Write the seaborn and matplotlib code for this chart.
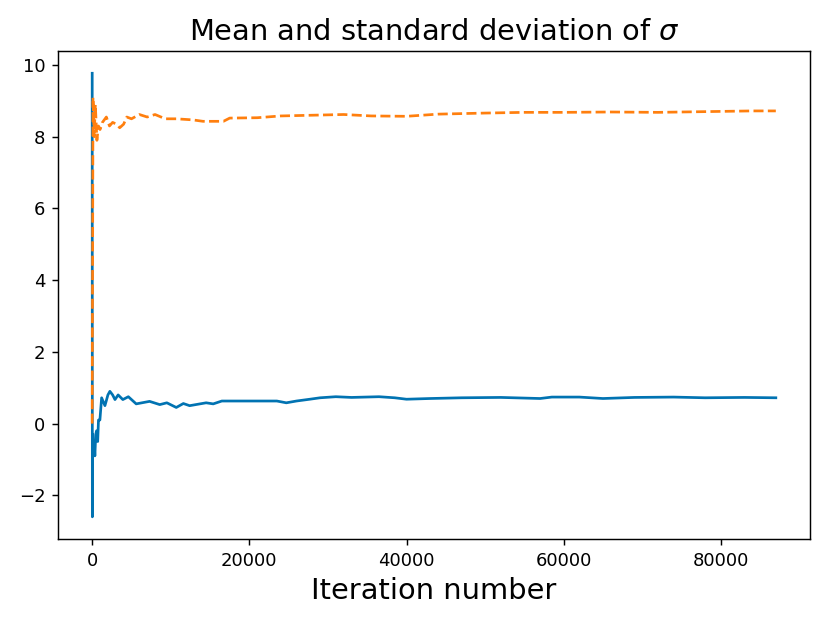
import matplotlib
matplotlib.use("Agg")
import matplotlib.pyplot as plt
import seaborn as sns

# running mean of sigma
mean_iter = [0, 20, 60, 130, 250, 340, 450, 560, 700, 800, 980, 1200, 1620, 2000,
             2250, 2600, 2900, 3300, 3900, 4600, 5600, 7300, 8600, 9500, 10700,
             11600, 12400, 14500, 15400, 16500, 20000, 23500, 24700, 26000, 27700,
             29000, 31000, 33000, 36500, 38500, 40000, 43000, 47000, 52000, 57000,
             58500, 62000, 65000, 69000, 74000, 78000, 83000, 87000]
mean_vals = [9.77, -2.6, -0.3, -0.9, -0.5, -0.9, -0.3, -0.2, -0.5, 0.1, 0.1, 0.72,
             0.5, 0.8, 0.9, 0.8, 0.67, 0.8, 0.67, 0.75, 0.55, 0.62, 0.53, 0.58, 0.45,
             0.56, 0.5, 0.58, 0.55, 0.63, 0.63, 0.63, 0.58, 0.63, 0.68, 0.72, 0.75,
             0.73, 0.75, 0.72, 0.68, 0.7, 0.72, 0.73, 0.7, 0.74, 0.74, 0.7, 0.73,
             0.74, 0.72, 0.73, 0.72]

# running standard deviation of sigma
std_iter = [0, 100, 250, 400, 600, 800, 1000, 1300, 1800, 2200, 2600, 3100, 3500,
            4000, 4400, 5000, 6000, 7000, 8000, 9300, 10700, 12800, 14100, 16700,
            17500, 21000, 24000, 28000, 32000, 35500, 40000, 44000, 50000, 55000,
            60000, 66000, 72000, 78000, 84000, 87000]
std_vals = [0.0, 9.1, 8.0, 8.9, 7.9, 8.3, 8.2, 8.4, 8.55, 8.3, 8.4, 8.35, 8.25,
            8.35, 8.55, 8.5, 8.62, 8.55, 8.62, 8.5, 8.5, 8.47, 8.43, 8.43, 8.52,
            8.53, 8.58, 8.6, 8.62, 8.58, 8.57, 8.63, 8.66, 8.68, 8.68, 8.69, 8.68,
            8.7, 8.72, 8.72]

fig, ax = plt.subplots(figsize=(830 / 130, 623 / 130), dpi=130)
sns.lineplot(x=mean_iter, y=mean_vals, ax=ax, color="#0173b2", linewidth=1.5,
             estimator=None, sort=False)
sns.lineplot(x=std_iter, y=std_vals, ax=ax, color="#ff7f0e", linewidth=1.5,
             linestyle="--", estimator=None, sort=False)

ax.set_title(r"Mean and standard deviation of $\sigma$", fontsize=16)
ax.set_xlabel("Iteration number", fontsize=16)
ax.set_xticks([0, 20000, 40000, 60000, 80000])

fig.subplots_adjust(left=0.0699, right=0.9759, top=0.918, bottom=0.1348)
fig.savefig("out.png", dpi=130)
